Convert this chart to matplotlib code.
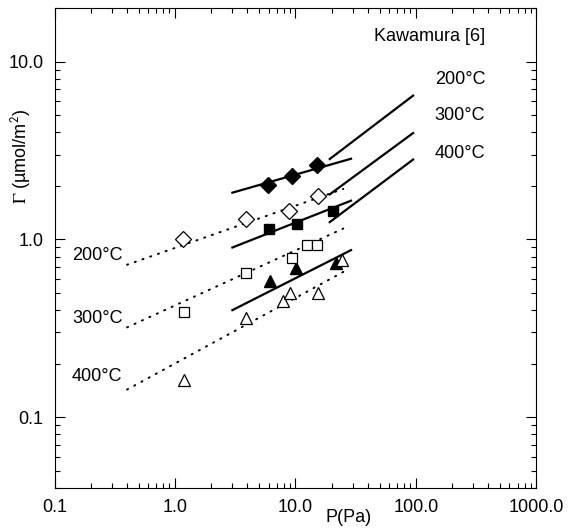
import matplotlib
matplotlib.use('Agg')
import matplotlib.pyplot as plt
import numpy as np
from matplotlib.ticker import LogLocator, NullFormatter

plt.rcParams['font.family'] = ['Liberation Sans', 'DejaVu Sans']
plt.rcParams['mathtext.fontset'] = 'stix'

# filled symbols + solid fits
p_f200 = [5.9, 9.3, 15.0]
g_f200 = [2.03, 2.26, 2.61]
p_f300 = [6.0, 10.4, 20.6]
g_f300 = [1.14, 1.22, 1.44]
p_f400 = [6.1, 10.1, 21.6]
g_f400 = [0.58, 0.69, 0.74]

# open symbols + dotted fits
p_o200 = [1.17, 3.9, 8.8, 15.3]
g_o200 = [1.0, 1.31, 1.44, 1.75]
p_o300 = [1.19, 3.9, 9.3, 12.4, 15.0]
g_o300 = [0.39, 0.65, 0.79, 0.925, 0.925]
p_o400 = [1.19, 3.9, 7.9, 9.1, 15.3, 24.4]
g_o400 = [0.162, 0.36, 0.45, 0.50, 0.50, 0.77]

# fit line end points (P, Gamma)
solid_p = [3.0, 29.0]
solid_g = {'200': [1.83, 2.84], '300': [0.90, 1.65], '400': [0.40, 0.87]}
dot_p = [0.4, 25.0]
dot_g = {'200': [0.72, 1.92], '300': [0.32, 1.15], '400': [0.143, 0.656]}
kaw_p = [19.3, 95.0]
kaw_g = {'200': [2.83, 6.43], '300': [1.79, 3.96], '400': [1.25, 2.81]}

xticks = [0.1, 1, 10, 100, 1000]
xticklabels = ['0.1', '1.0', '10.0', '100.0', '1000.0']
yticks = [0.1, 1, 10]
yticklabels = ['0.1', '1.0', '10.0']

fig = plt.figure(figsize=(5.68, 5.31), dpi=100)
ax = fig.add_axes([0.096, 0.081, 0.848, 0.904])
ax.set_xscale('log')
ax.set_yscale('log')
ax.set_xlim(0.1, 1000)
ax.set_ylim(0.04, 20)

for k in ['200', '300', '400']:
    ax.plot(solid_p, solid_g[k], color='black', lw=1.6, zorder=2)
    ax.plot(dot_p, dot_g[k], color='black', lw=1.4, ls=(0, (0.6, 3.6)),
            dash_capstyle='round', zorder=2)
    ax.plot(kaw_p, kaw_g[k], color='black', lw=1.6, zorder=2)

ax.plot(p_f200, g_f200, 'D', ms=7.8, color='black', zorder=3)
ax.plot(p_f300, g_f300, 's', ms=7.5, color='black', zorder=3)
ax.plot(p_f400, g_f400, '^', ms=8.5, color='black', zorder=3)
ax.plot(p_o200, g_o200, 'D', ms=7.8, mfc='white', mec='black', mew=0.9, ls='none', zorder=3)
ax.plot(p_o300, g_o300, 's', ms=7.5, mfc='white', mec='black', mew=0.9, ls='none', zorder=3)
ax.plot(p_o400, g_o400, '^', ms=8.5, mfc='white', mec='black', mew=0.9, ls='none', zorder=3)

ax.set_xticks(xticks)
ax.set_xticklabels(xticklabels)
ax.set_yticks(yticks)
ax.set_yticklabels(yticklabels)
ax.xaxis.set_minor_locator(LogLocator(base=10, subs=np.arange(2, 10)))
ax.yaxis.set_minor_locator(LogLocator(base=10, subs=np.arange(2, 10)))
ax.xaxis.set_minor_formatter(NullFormatter())
ax.yaxis.set_minor_formatter(NullFormatter())
ax.tick_params(which='both', direction='in', top=True, right=True, labelsize=13)
ax.tick_params(which='major', length=7, width=0.8)
ax.tick_params(which='minor', length=3.5, width=0.8)
ax.tick_params(axis='x', pad=8)
ax.tick_params(axis='y', pad=8)
for s in ax.spines.values():
    s.set_linewidth(0.8)

ax.text(0.61, -0.062, 'P(Pa)', transform=ax.transAxes, ha='center', va='center', fontsize=13)
ax.text(-0.07, 0.69, r'$\Gamma$ (µmol/m$^{\mathsf{2}}$)', transform=ax.transAxes,
        ha='center', va='center', rotation=90, fontsize=13)

ax.text(0.894, 0.940, 'Kawamura [6]', transform=ax.transAxes, ha='right', va='center', fontsize=13)
ax.text(0.894, 0.852, '200°C', transform=ax.transAxes, ha='right', va='center', fontsize=13)
ax.text(0.894, 0.777, '300°C', transform=ax.transAxes, ha='right', va='center', fontsize=13)
ax.text(0.894, 0.697, '400°C', transform=ax.transAxes, ha='right', va='center', fontsize=13)
ax.text(0.036, 0.485, '200°C', transform=ax.transAxes, ha='left', va='center', fontsize=13)
ax.text(0.036, 0.354, '300°C', transform=ax.transAxes, ha='left', va='center', fontsize=13)
ax.text(0.036, 0.233, '400°C', transform=ax.transAxes, ha='left', va='center', fontsize=13)

fig.savefig('out.png', dpi=100)
